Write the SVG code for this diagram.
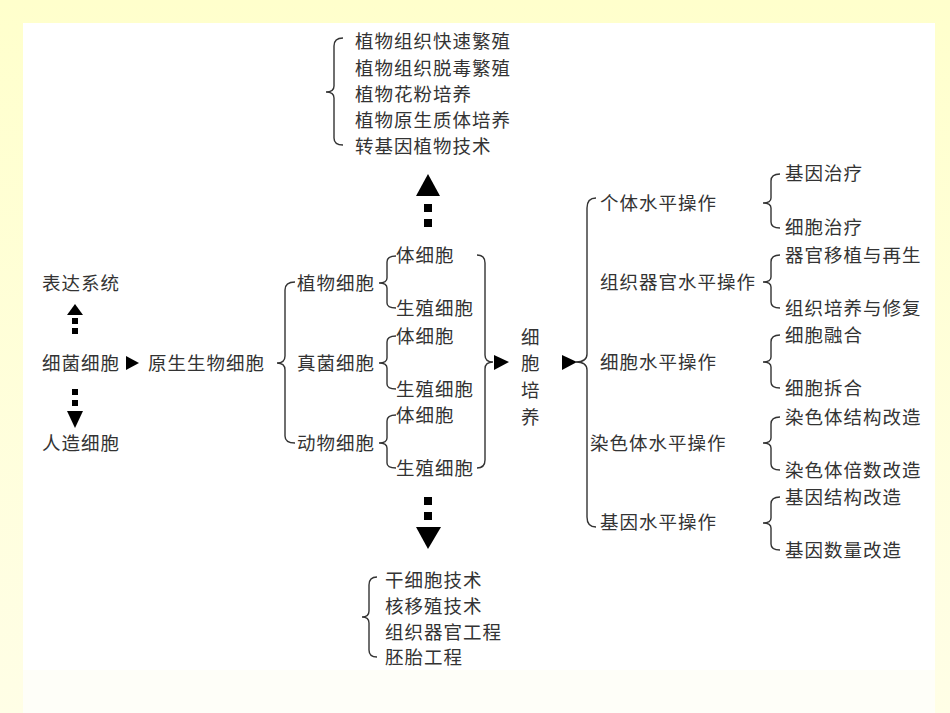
<svg xmlns="http://www.w3.org/2000/svg" width="950" height="713" viewBox="0 0 950 713">
<defs>
<linearGradient id="bg" x1="0" y1="0" x2="0" y2="1">
<stop offset="0" stop-color="#FFFFCC"/>
<stop offset="1" stop-color="#FFFEE6"/>
</linearGradient>
</defs>
<style>
text{font-family:"Noto Sans CJK SC","Noto Sans",sans-serif;font-size:18.5px;letter-spacing:1px;fill:#333;}
.br{fill:none;stroke:#333;stroke-width:1.4;}
.ah{fill:#000;}
</style>
<rect x="0" y="0" width="950" height="713" fill="url(#bg)"/>
<rect x="23" y="23" width="912" height="647" fill="#FFFFFF"/>
<rect x="23" y="670" width="912" height="43" fill="#FEFEF8"/>

<g id="connectors">
<!-- left arrows -->
<polygon class="ah" points="75,304 67,315 83,315"/>
<rect class="ah" x="72" y="318" width="6" height="6"/>
<rect class="ah" x="72" y="328" width="6" height="6"/>
<rect class="ah" x="72" y="389" width="6" height="6"/>
<rect class="ah" x="72" y="400" width="6" height="6"/>
<polygon class="ah" points="67,411 83,411 75,428"/>
<polygon class="ah" points="126,356 126,370 139,363"/>
<!-- big left brace -->
<path class="br" d="M295,282 Q285,282 285,290 L285,356 Q285,363 277,363 Q285,363 285,370 L285,436 Q285,443 295,443"/>
<!-- small braces -->
<path class="br" d="M396,256 Q387,256 387,262 L387,278 Q387,283 379,283 Q387,283 387,288 L387,303 Q387,308 396,308"/>
<path class="br" d="M396,336 Q387,336 387,342 L387,358 Q387,363 379,363 Q387,363 387,368 L387,384 Q387,389 396,389"/>
<path class="br" d="M396,415 Q387,415 387,421 L387,438 Q387,443 379,443 Q387,443 387,448 L387,463 Q387,468 396,468"/>
<!-- closing brace -->
<path class="br" d="M477,255 Q485,255 485,263 L485,355 Q485,362 493,362 Q485,362 485,369 L485,460 Q485,468 477,468"/>
<polygon class="ah" points="494,355 494,370 509,362"/>
<polygon class="ah" points="562,355 562,370 577,362"/>
<!-- right big brace -->
<path class="br" d="M596,198 Q587,198 587,208 L587,354 Q587,362 576,362 Q587,362 587,370 L587,517 Q587,527 596,527"/>
<!-- right small braces -->
<path class="br" d="M780,174 Q771,174 771,181 L771,198 Q771,203 763,203 Q771,203 771,208 L771,222 Q771,228 780,228"/>
<path class="br" d="M780,255 Q771,255 771,262 L771,277 Q771,282 763,282 Q771,282 771,287 L771,302 Q771,308 780,308"/>
<path class="br" d="M780,335 Q771,335 771,342 L771,357 Q771,362 763,362 Q771,362 771,367 L771,382 Q771,388 780,388"/>
<path class="br" d="M780,417 Q771,417 771,424 L771,438 Q771,443 763,443 Q771,443 771,448 L771,464 Q771,470 780,470"/>
<path class="br" d="M780,497 Q771,497 771,504 L771,518 Q771,523 763,523 Q771,523 771,528 L771,544 Q771,550 780,550"/>
<!-- top -->
<polygon class="ah" points="428,174 416,196 440,196"/>
<rect class="ah" x="424" y="204" width="8" height="8"/>
<rect class="ah" x="424" y="219" width="8" height="8"/>
<path class="br" d="M343,38 Q334,38 334,46 L334,86 Q334,92 326,92 Q334,92 334,98 L334,138 Q334,145 343,145"/>
<!-- bottom -->
<rect class="ah" x="424" y="497" width="8" height="8"/>
<rect class="ah" x="424" y="512" width="8" height="8"/>
<polygon class="ah" points="416,527 441,527 428,549"/>
<path class="br" d="M377,577 Q369,577 369,585 L369,611 Q369,617 362,617 Q369,617 369,623 L369,650 Q369,657 377,657"/>
</g>

<g id="n-express"><text x="42" y="290">表达系统</text></g>
<g id="n-bacteria"><text x="42" y="370">细菌细胞</text></g>
<g id="n-artificial"><text x="42" y="450">人造细胞</text></g>
<g id="n-protist"><text x="148" y="370">原生生物细胞</text></g>

<g id="n-plant"><text x="297" y="290">植物细胞</text></g>
<g id="n-fungi"><text x="297" y="370">真菌细胞</text></g>
<g id="n-animal"><text x="297" y="450">动物细胞</text></g>

<g id="n-plant-s"><text x="396" y="262">体细胞</text></g>
<g id="n-plant-g"><text x="396" y="315">生殖细胞</text></g>
<g id="n-fungi-s"><text x="396" y="343">体细胞</text></g>
<g id="n-fungi-g"><text x="396" y="396">生殖细胞</text></g>
<g id="n-animal-s"><text x="396" y="422">体细胞</text></g>
<g id="n-animal-g"><text x="396" y="475">生殖细胞</text></g>

<g id="n-culture">
<text x="521" y="344">细</text>
<text x="521" y="370">胞</text>
<text x="521" y="397">培</text>
<text x="521" y="424">养</text>
</g>

<g id="n-individual"><text x="600" y="210">个体水平操作</text></g>
<g id="n-tissue"><text x="600" y="289">组织器官水平操作</text></g>
<g id="n-cell"><text x="600" y="369">细胞水平操作</text></g>
<g id="n-chromosome"><text x="590" y="450">染色体水平操作</text></g>
<g id="n-gene"><text x="600" y="529">基因水平操作</text></g>

<g id="n-genetherapy"><text x="785" y="180">基因治疗</text></g>
<g id="n-celltherapy"><text x="785" y="234">细胞治疗</text></g>
<g id="n-organ"><text x="785" y="262">器官移植与再生</text></g>
<g id="n-tissuerepair"><text x="785" y="315">组织培养与修复</text></g>
<g id="n-fusion"><text x="785" y="342">细胞融合</text></g>
<g id="n-recombine"><text x="785" y="395">细胞拆合</text></g>
<g id="n-chromstruct"><text x="785" y="424">染色体结构改造</text></g>
<g id="n-chromnum"><text x="785" y="477">染色体倍数改造</text></g>
<g id="n-genestruct"><text x="785" y="504">基因结构改造</text></g>
<g id="n-genenum"><text x="785" y="557">基因数量改造</text></g>

<g id="n-top">
<text x="355" y="48">植物组织快速繁殖</text>
<text x="355" y="75">植物组织脱毒繁殖</text>
<text x="355" y="101">植物花粉培养</text>
<text x="355" y="127">植物原生质体培养</text>
<text x="355" y="153">转基因植物技术</text>
</g>

<g id="n-bottom">
<text x="385" y="587">干细胞技术</text>
<text x="385" y="613">核移殖技术</text>
<text x="385" y="639">组织器官工程</text>
<text x="385" y="664">胚胎工程</text>
</g>
</svg>
